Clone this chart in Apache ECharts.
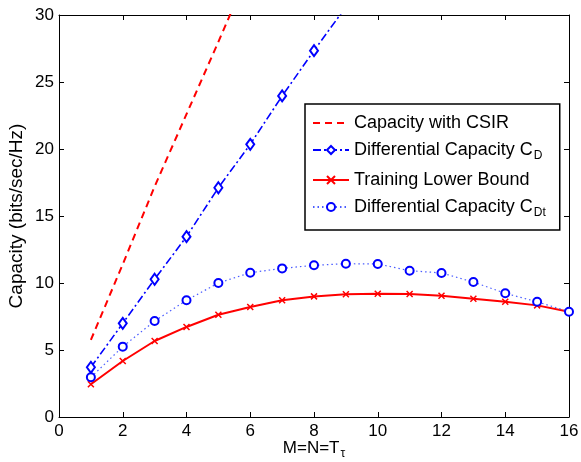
<!DOCTYPE html>
<html>
<head>
<meta charset="utf-8">
<script src="https://cdn.jsdelivr.net/npm/echarts@6/dist/echarts.min.js"></script>
<style>html,body{margin:0;padding:0;background:#fff}#c{width:581px;height:462px}</style>
</head>
<body>
<div id="c"></div>
<script>
// Data
var xCsir = [1, 2, 3, 4, 5, 6];
var csir = [5.75, 11.4, 17.2, 22.6, 28.0, 33.5];

var xAll = [1, 2, 3, 4, 5, 6, 7, 8, 9, 10, 11, 12, 13, 14, 15, 16];
var xCD = [1, 2, 3, 4, 5, 6, 7, 8, 9];
var capD = [3.71, 6.99, 10.28, 13.46, 17.11, 20.35, 23.96, 27.34, 30.6];
var training = [2.44, 4.18, 5.67, 6.72, 7.63, 8.21, 8.71, 9.0, 9.16, 9.2, 9.18, 9.05, 8.83, 8.6, 8.33, 7.86];
var capDt = [2.96, 5.25, 7.16, 8.71, 10.0, 10.77, 11.09, 11.32, 11.44, 11.42, 10.92, 10.75, 10.07, 9.23, 8.6, 7.86];

var xTicks = [0, 2, 4, 6, 8, 10, 12, 14, 16];
var yTicks = [0, 5, 10, 15, 20, 25, 30];

var seriesNames = ['Capacity with CSIR', 'Differential Capacity C_D', 'Training Lower Bound', 'Differential Capacity C_Dt'];

function pairs(xs, ys) { return xs.map(function (x, i) { return [x, ys[i]]; }); }

var FONT = '"Liberation Sans", Arial, sans-serif';
var chart = echarts.init(document.getElementById('c'), null, { renderer: 'canvas' });

var baseX = {
  type: 'value', min: xTicks[0], max: xTicks[xTicks.length - 1], interval: 2,
  axisLine: { show: true, onZero: false, lineStyle: { color: '#000', width: 1 } },
  axisTick: { show: true, inside: true, length: 5, lineStyle: { color: '#000' } },
  splitLine: { show: false }
};
var baseY = {
  type: 'value', min: yTicks[0], max: yTicks[yTicks.length - 1], interval: 5,
  axisLine: { show: true, onZero: false, lineStyle: { color: '#000', width: 1 } },
  axisTick: { show: true, inside: true, length: 5, lineStyle: { color: '#000' } },
  splitLine: { show: false }
};

var csirLine = { color: '#ff0000', width: 2, type: [7, 5] };
// practically invisible marker so the CSIR curve (and its legend entry) shows only the dashed line
var noMarker = 'path://M0,0L0.001,0L0,0.001Z M100,100L100.001,100L100,100.001Z';

chart.setOption({
  animation: false,
  backgroundColor: '#fff',
  textStyle: { fontFamily: FONT },
  grid: { left: 59, right: 12, top: 15, bottom: 45, containLabel: false, outerBoundsMode: 'none' },
  xAxis: [
    Object.assign({}, baseX, {
      position: 'bottom',
      axisLabel: { color: '#000', fontSize: 17, margin: 6, fontFamily: FONT },
      name: 'M=N=T{sub|τ}',
      nameLocation: 'middle', nameGap: 19, nameMoveOverlap: false,
      nameTextStyle: { color: '#000', fontSize: 17, fontFamily: FONT,
        rich: { sub: { fontSize: 12, color: '#000', padding: [12, 0, 0, 1], fontFamily: FONT } } }
    }),
    Object.assign({}, baseX, { position: 'top', axisLabel: { show: false } })
  ],
  yAxis: [
    Object.assign({}, baseY, {
      position: 'left',
      axisLabel: { color: '#000', fontSize: 17, margin: 5, fontFamily: FONT },
      name: 'Capacity (bits/sec/Hz)',
      nameLocation: 'middle', nameGap: 33, nameRotate: 90, nameMoveOverlap: false,
      nameTextStyle: { color: '#000', fontSize: 19, fontFamily: FONT }
    }),
    Object.assign({}, baseY, { position: 'right', axisLabel: { show: false } })
  ],
  legend: {
    orient: 'vertical',
    left: 305, top: 104,
    data: seriesNames,
    itemWidth: 36, itemHeight: 10, itemGap: 9,
    padding: [10, 14, 11, 7],
    borderColor: '#000', borderWidth: 1.5,
    backgroundColor: '#fff',
    selectedMode: false,
    textStyle: {
      color: '#000', fontSize: 18, fontFamily: FONT,
      rich: { sub: { fontSize: 12, color: '#000', padding: [12, 0, 0, 1], fontFamily: FONT } }
    },
    formatter: function (n) {
      if (n === 'Differential Capacity C_D') return 'Differential Capacity C{sub|D}';
      if (n === 'Differential Capacity C_Dt') return 'Differential Capacity C{sub|Dt}';
      return n;
    }
  },
  series: [
    {
      name: seriesNames[0], type: 'line', data: pairs(xCsir, csir),
      symbol: noMarker, showSymbol: false, clip: true,
      lineStyle: csirLine,
      itemStyle: { color: '#ff0000' }
    },
    {
      name: seriesNames[1], type: 'line', data: pairs(xCD, capD),
      symbol: 'diamond', symbolSize: [8, 11], clip: true,
      lineStyle: { color: '#0000ff', width: 1.6, type: [8, 3, 2, 3] },
      itemStyle: { color: '#fff', borderColor: '#0000ff', borderWidth: 2 }
    },
    {
      name: seriesNames[2], type: 'line', data: pairs(xAll, training),
      symbol: 'path://M0,0L10,10M10,0L0,10', symbolSize: 6, clip: true,
      lineStyle: { color: '#ff0000', width: 2, type: 'solid' },
      itemStyle: { color: '#ff0000', borderColor: '#ff0000', borderWidth: 1.5 }
    },
    {
      name: seriesNames[3], type: 'line', data: pairs(xAll, capDt),
      symbol: 'circle', symbolSize: 8, clip: true,
      lineStyle: { color: '#4a5cff', width: 1.2, type: [1.5, 3] },
      itemStyle: { color: '#fff', borderColor: '#0000ff', borderWidth: 2 }
    }
  ]
});
</script>
</body>
</html>
